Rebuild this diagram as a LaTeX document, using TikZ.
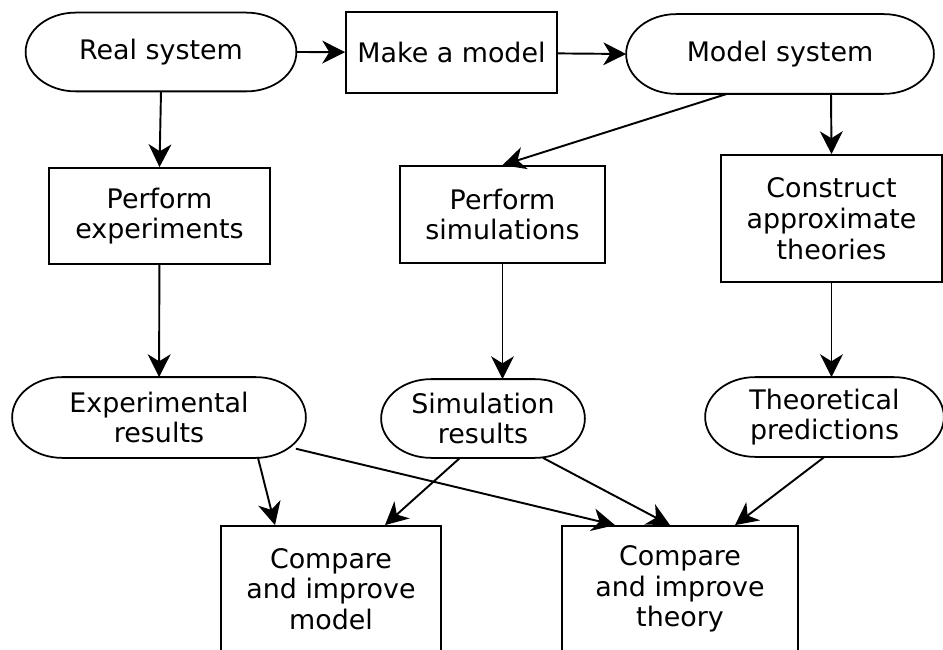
\documentclass[tikz,border=0pt]{standalone}
\usepackage{fontspec}
\setmainfont{DejaVu Sans}
\usetikzlibrary{arrows.meta,calc}
\begin{document}
\begin{tikzpicture}[
    caja/.style={draw=black, fill=white, line width=1pt, align=center, font=\fontsize{15.3}{17.5}\selectfont, inner sep=0pt},
    ovalo/.style={caja, draw=none},
    contorno/.style={line width=1pt, draw=black},
    flecha/.style={line width=1.1pt, draw=black, -{Stealth[length=13pt, width=13pt, inset=4pt]}}
]
    \useasboundingbox (0,0) rectangle (18.86,-13);

    % --- FILA SUPERIOR ---
    \node[ovalo, minimum width=5.38cm, minimum height=1.54cm] (real) at (3.22,-1.04) {Real system};
    \node[caja, minimum width=4.22cm, minimum height=1.62cm] (make) at (9.03,-1.05) {Make a model};
    \node[ovalo, minimum width=6.12cm, minimum height=1.56cm] (modelsys) at (15.6,-1.08) {Model system};

    % --- FILA CENTRAL ---
    \node[caja, minimum width=4.42cm, minimum height=1.92cm] (exper) at (3.19,-4.32) {Perform\\experiments};
    \node[caja, minimum width=4.1cm, minimum height=1.94cm] (simul) at (10.05,-4.29) {Perform\\simulations};
    \node[caja, minimum width=4.42cm, minimum height=2.54cm] (constr) at (16.63,-4.37) {Construct\\approximate\\theories};

    % --- RESULTADOS ---
    \node[ovalo, minimum width=5.84cm, minimum height=1.58cm] (expres) at (3.18,-8.35) {Experimental\\results};
    \node[ovalo, minimum width=4.04cm, minimum height=1.54cm] (simres) at (9.66,-8.37) {Simulation\\results};
    \node[ovalo, minimum width=4.74cm, minimum height=1.56cm] (theo) at (16.49,-8.34) {Theoretical\\predictions};

    % --- COMPARACIONES ---
    \node[caja, minimum width=4.4cm, minimum height=2.52cm] (cmpmodel) at (6.62,-11.78) {Compare\\and improve\\model};
    \node[caja, minimum width=4.72cm, minimum height=2.52cm] (cmptheo) at (13.6,-11.78) {Compare\\and improve\\theory};

    % --- CONTORNOS DE LOS OVALOS (extremos elipticos) ---
    \foreach \nombre in {real,modelsys,expres,simres,theo}
        \draw[contorno] let \p1=(\nombre.north), \p2=(\nombre.south), \n1={(\y1-\y2)/2} in
            ([xshift=1cm]\nombre.north west) -- ([xshift=-1cm]\nombre.north east)
            arc[start angle=90, end angle=-90, x radius=1cm, y radius=\n1]
            -- ([xshift=1cm]\nombre.south west)
            arc[start angle=270, end angle=90, x radius=1cm, y radius=\n1] -- cycle;

    % --- FLECHAS ---
    \draw[flecha] (real.east) -- (make);
    \draw[flecha] (make) -- (modelsys.west);
    \draw[flecha] (real.south) -- (exper.north);
    \draw[flecha] ([xshift=-1.06cm]modelsys.south) -- (simul.north);
    \draw[flecha] ([xshift=1.02cm]modelsys.south) -- (constr.north);
    \draw[flecha] (exper) -- (expres);
    \draw[flecha] (simul.south) -- (simul.south |- simres.north);
    \draw[flecha] (constr.south) -- (constr.south |- theo.north);
    \draw[flecha] ([xshift=1.98cm]expres.south) -- ([xshift=-1.12cm]cmpmodel.north);
    \draw[flecha] ([xshift=-0.2cm]expres.-12) -- ([xshift=-1.3cm]cmptheo.north);
    \draw[flecha] ([xshift=-0.46cm]simres.south) -- ([xshift=1.08cm]cmpmodel.north);
    \draw[flecha] ([xshift=1.2cm]simres.south) -- ([xshift=-0.2cm]cmptheo.north);
    \draw[flecha] (theo.south) -- ([xshift=1.1cm]cmptheo.north);
\end{tikzpicture}
\end{document}
